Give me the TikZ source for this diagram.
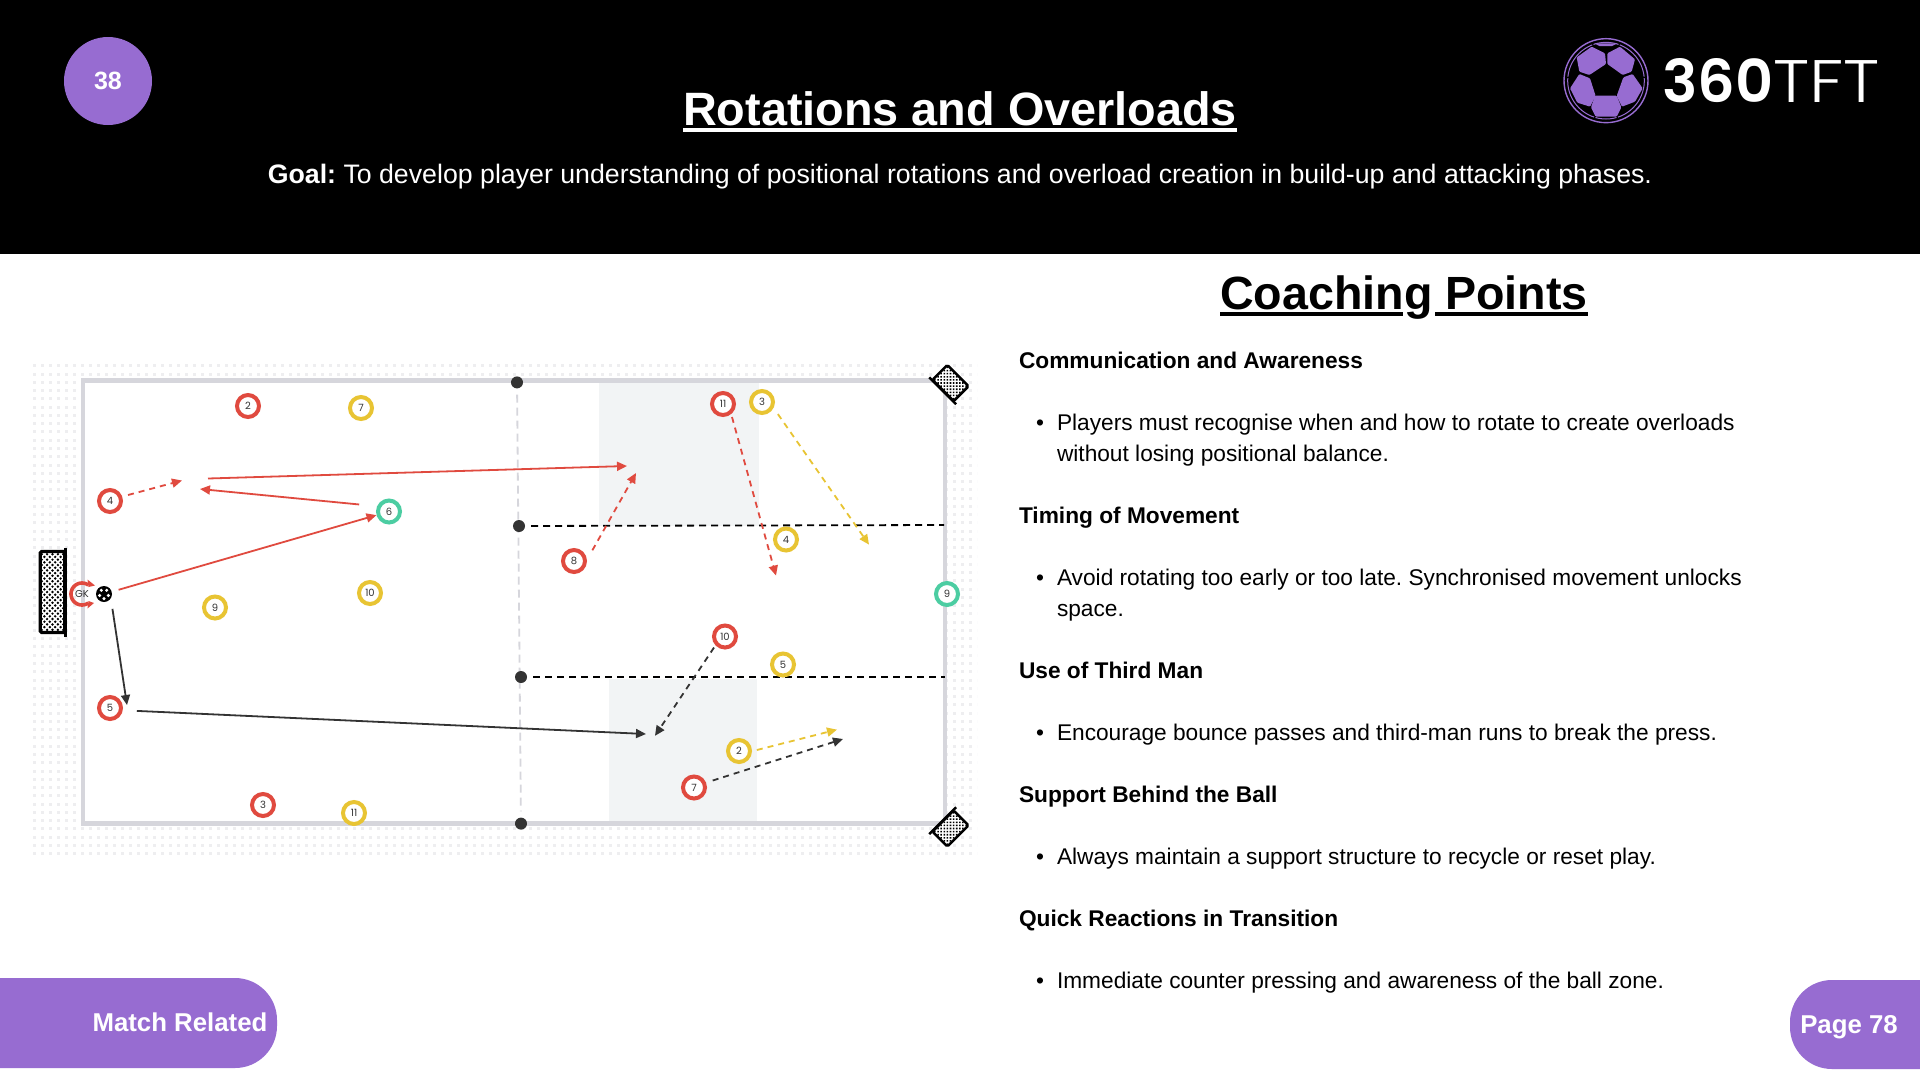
\documentclass[tikz,border=0pt]{standalone}
\usepackage{fontspec}
\setmainfont{Liberation Sans}
\newfontfamily\numf{Poppins}
\newfontfamily\logoB{Poppins}[UprightFont=*-SemiBold]
\newfontfamily\logoL{Poppins}[UprightFont=*-Light,FakeStretch=1.16]
\usetikzlibrary{arrows.meta}
\definecolor{purp}{HTML}{976CD1}
\definecolor{redc}{HTML}{E04A3F}
\definecolor{yelc}{HTML}{E8C433}
\definecolor{grnc}{HTML}{4CCDA2}
\definecolor{dark}{HTML}{333333}
\definecolor{fieldc}{HTML}{D6D6DC}
\definecolor{zonec}{HTML}{F2F4F5}
\definecolor{dotc}{HTML}{EEEEF0}
\newcommand\fsz[1]{\fontsize{#1}{#1}\selectfont}
% rotation, x, y, half width, half length, spacing, dot radius, frame width
\newcommand\goalnet[8]{%
 \begin{scope}[shift={(#2,#3)},rotate=#1]
  \fill[white] (-#4,-#5) rectangle (#4,#5);
  \begin{scope}
   \clip (-#4,-#5) rectangle (#4,#5);
   \foreach \i in {-7,...,7}{\foreach \j in {-16,...,16}{%
     \pgfmathparse{int(mod(abs(\i+\j),2))}%
     \ifnum\pgfmathresult=0 \fill[black] ({\i*#6},{\j*#6}) circle[radius=#7];\fi}}
  \end{scope}
  \draw[black,line width=#8,rounded corners=1.5] (-#4,-#5) rectangle (#4,#5);
  \draw[black,line width=#8] ({#4+0.5},{-#5-4}) -- ({#4+0.5},{#5+4});
 \end{scope}}
\tikzset{
 x=1pt,y=-1pt,
 txt/.style={anchor=base,inner sep=0pt,outer sep=0pt},
 txtw/.style={anchor=base west,inner sep=0pt,outer sep=0pt},
 headtxt/.style={txtw,font=\fsz{22.7}\bfseries},
 bodytxt/.style={txtw,font=\fsz{22.7}},
 bull/.style={txt,font=\fsz{22.7}},
 player/.style={circle,draw,line width=4pt,minimum size=22pt,inner sep=0pt,fill=white,text=dark,font=\numf\fsz{10}},
 redp/.style={player,draw=redc},
 yelp/.style={player,draw=yelc},
 grnp/.style={player,draw=grnc},
 pin/.style={circle,fill=dark,minimum size=12pt,inner sep=0pt},
 arr/.style={line width=1.8pt,-{Triangle[length=10pt,width=9pt]}},
 darr/.style={arr,dash pattern=on 6pt off 5pt},
}
\begin{document}
\frenchspacing
\begin{tikzpicture}
\useasboundingbox (0,0) rectangle (1920,1080);
\fill[white] (0,0) rectangle (1920,1080);
% header
\fill[black] (0,0) rectangle (1920,253.5);
\node[circle,fill=purp,minimum size=88pt,inner sep=0pt] (badge) at (108,81) {};
\node[txt,text=white,font=\fsz{25}\bfseries] (badgetxt) at (108,89) {38};
\node[txt,text=white,font=\fsz{46.8}\bfseries] (title) at (960,125) {Rotations and Overloads};
\draw[white,line width=3.3pt] ([yshift=-5pt]title.base west) -- ([yshift=-5pt]title.base east);
\node[txt,text=white,font=\fsz{26.72}] (goal) at (960,183) {\textbf{Goal:} To develop player understanding of positional rotations and overload creation in build-up and attacking phases.};
% logo
\begin{scope}[shift={(1500,20)},scale=0.33333]
 \draw[purp,line width=1.4pt] (318,182) circle[radius=126];
 \draw[purp,line width=1pt] (318,182) circle[radius=115];
 \foreach \a in {107,73,-5,185,-110,-70}{\draw[black,line width=1.2pt] (318,182) ++(\a:100) -- ++(\a:17);}
 \fill[purp,rounded corners=1pt] (275,80)--(315,100)--(318,132)--(268,165)--(238,155)--(230,112)--cycle;
 \fill[purp,rounded corners=1pt] (360,80)--(405,118)--(395,155)--(368,165)--(322,132)--(322,100)--cycle;
 \fill[purp,rounded corners=1pt] (238,162)--(270,175)--(287,228)--(270,260)--(232,248)--(210,205)--cycle;
 \fill[purp,rounded corners=1pt] (398,162)--(370,172)--(350,228)--(366,260)--(405,245)--(428,205)--cycle;
 \fill[purp,rounded corners=1pt] (285,227)--(350,227)--(364,262)--(350,290)--(287,290)--(273,262)--cycle;
 \fill[purp] (283,70)--(352,70)--(336,78)--(298,78)--cycle;
\end{scope}
\node[txtw,text=white,font=\fsz{59}] (logo) at (1662,102) {{\logoB 360}{\logoL\fsz{60}TFT}};
% dotted ground
\draw[dotc,line width=3pt,dash pattern=on 3pt off 5pt]
  foreach \k in {0,...,59}{ (33,{365.8+8.27*\k}) -- (977,{365.8+8.27*\k}) };
\fill[white] (77,378) rectangle (947,826);
% zones
\fill[zonec] (599,382) rectangle (759,526);
\fill[zonec] (609,679) rectangle (757,821.5);
% field
\draw[fieldc,line width=4.5pt] (83,380.3) rectangle (945,823.6);
% halfway and channel lines
\node[pin] (t1) at (517,382.4) {};
\node[pin] (t4) at (521,823.6) {};
\draw[fieldc,line width=1.8pt,dash pattern=on 8pt off 5pt,shorten <=6pt,shorten >=6pt] (t1) -- (t4);
\node[pin] (t2) at (519,526) {};
\node[pin] (t3) at (521,677) {};
\coordinate (ch1) at (944,525);
\coordinate (ch2) at (945,677);
\draw[black,line width=1.8pt,dash pattern=on 7pt off 5pt,shorten <=6pt] (t2) -- (ch1);
\draw[black,line width=1.8pt,dash pattern=on 7pt off 5pt,shorten <=6pt] (t3) -- (ch2);
% goals
\goalnet{0}{52.5}{592}{12.3}{40.5}{2.7}{1.35}{3.3pt}
\goalnet{225}{950.5}{383}{10.5}{15}{2.2}{1.1}{2.5pt}
\goalnet{135}{950.5}{828.5}{10.5}{15}{2.2}{1.1}{2.5pt}
% players
\node[redp] (r2) at (248,406) {2};
\node[redp] (r3) at (263,805) {3};
\node[redp] (r4) at (110,501) {4};
\node[redp] (r5) at (110,708) {5};
\node[redp] (r7) at (694,787.5) {7};
\node[redp] (r8) at (574,561) {8};
\node[redp] (r10) at (725,636.5) {10};
\node[redp] (r11) at (723,404) {11};
\node[yelp] (y2) at (739,751) {2};
\node[yelp] (y3) at (762,402) {3};
\node[yelp] (y4) at (786,539.5) {4};
\node[yelp] (y5) at (783,664.5) {5};
\node[yelp] (y7) at (361,408) {7};
\node[yelp] (y9) at (215,607.5) {9};
\node[yelp] (y10) at (370,593) {10};
\node[yelp] (y11) at (354,813) {11};
\node[grnp] (g6) at (389,511.5) {6};
\node[grnp] (g9) at (947,594) {9};
% keeper and ball
\node[circle,inner sep=0pt,minimum size=24pt,text=dark,font=\numf\fsz{10}] (gk) at (82,594) {GK};
\begin{scope}[shift={(gk)}]
 \draw[redc,line width=3.6pt] plot[domain=55:305,samples=30] ({11*cos(\x)},{11*sin(\x)});
 \fill[redc] (5.5,-14.5) -- (6.5,-7) -- (13,-8.5) -- cycle;
 \fill[redc] (5.5,14.5) -- (6.5,7) -- (12,9) -- cycle;
\end{scope}
\node[circle,fill=black,minimum size=16pt,inner sep=0pt] (ball) at (104,594) {};
\foreach \a in {90,162,234,306,18}{\fill[white] (ball) ++(\a:4.6) circle[radius=1.7];}
% free ends
\coordinate (e4) at (182,480.5);
\coordinate (e6) at (200,489);
\coordinate (l1) at (208,478.5);
\coordinate (l2) at (627,466);
\coordinate (e5) at (127,705);
\coordinate (e5b) at (646,734);
\coordinate (e8) at (636,473);
\coordinate (e11) at (776,575.6);
\coordinate (e3) at (869,544.6);
\coordinate (e10) at (655,735.8);
\coordinate (ey2) at (837,729.6);
\coordinate (e7) at (843,739);
% connectors
\draw[darr,redc,shorten <=6pt] (r4.20) -- (e4);
\draw[arr,redc,shorten <=18pt] (g6.156) -- (e6);
\draw[arr,redc] (l1) -- (l2);
\draw[arr,redc,shorten <=7pt] (ball) -- (g6);
\draw[arr,dark,shorten <=10.5pt] (ball.-33) -- (e5);
\draw[arr,dark,shorten <=14pt] (r5.-10) -- (e5b);
\draw[darr,redc,shorten <=11pt] (r8.5) -- (e8);
\draw[darr,redc,shorten <=3pt] (r11.-51) -- (e11);
\draw[darr,yelc,shorten <=7.5pt] (y3.-27) -- (e3);
\draw[darr,dark,shorten <=2.6pt] (r10.-137) -- (e10);
\draw[darr,yelc,shorten <=5pt] (y2.-1) -- (ey2);
\draw[darr,dark,shorten <=7pt] (r7.22) -- (e7);
% coaching points
\node[txt,text=black,font=\fsz{46.6}\bfseries] (cp) at (1404,309) {Coaching Points};
\draw[black,line width=3.3pt] ([yshift=-5pt]cp.base west) -- ([xshift=183pt,yshift=-5pt]cp.base west);
\draw[black,line width=3.3pt] ([xshift=215pt,yshift=-5pt]cp.base west) -- ([yshift=-5pt]cp.base east);
\node[headtxt] (h1) at (1019,368) {Communication and Awareness};
\node[bull] (b1) at (1040,430) {•};
\node[bodytxt] (t1a) at (1057,430) {Players must recognise when and how to rotate to create overloads};
\node[bodytxt] (t1b) at (1057,461) {without losing positional balance.};
\node[headtxt] (h2) at (1019,523) {Timing of Movement};
\node[bull] (b2) at (1040,585.5) {•};
\node[bodytxt] (t2a) at (1057,585.5) {Avoid rotating too early or too late. Synchronised movement unlocks};
\node[bodytxt] (t2b) at (1057,616) {space.};
\node[headtxt] (h3) at (1019,678) {Use of Third Man};
\node[bull] (b3) at (1040,740) {•};
\node[bodytxt] (t3a) at (1057,740) {Encourage bounce passes and third-man runs to break the press.};
\node[headtxt] (h4) at (1019,802) {Support Behind the Ball};
\node[bull] (b4) at (1040,864) {•};
\node[bodytxt] (t4a) at (1057,864) {Always maintain a support structure to recycle or reset play.};
\node[headtxt] (h5) at (1019,926.5) {Quick Reactions in Transition};
\node[bull] (b5) at (1040,988) {•};
\node[bodytxt] (t5a) at (1057,988) {Immediate counter pressing and awareness of the ball zone.};
% pills
\fill[purp] (0,978) [rounded corners=42pt] -- (277,978) -- (277,1068) [sharp corners] -- (0,1068) -- cycle;
\node[txt,text=white,font=\fsz{25.8}\bfseries] (mr) at (180,1031) {Match Related};
\fill[purp] (1920,980) [rounded corners=42pt] -- (1790,980) -- (1790,1069) [sharp corners] -- (1920,1069) -- cycle;
\node[txt,text=white,font=\fsz{25.8}\bfseries] (pg) at (1849,1033) {Page 78};
\end{tikzpicture}
\end{document}
